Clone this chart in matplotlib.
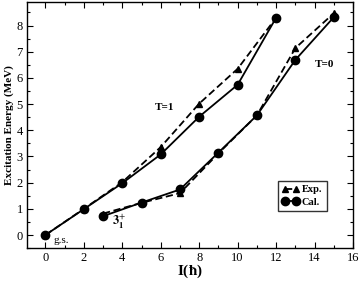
import matplotlib
matplotlib.use('Agg')
import matplotlib.pyplot as plt
from matplotlib.ticker import MultipleLocator

# T=1 band (even spins)
spin_t1 = [0, 2, 4, 6, 8, 10, 12]
exp_t1 = [0.0, 1.0, 2.02, 3.36, 5.02, 6.35, 8.3]
cal_t1 = [0.0, 0.99, 1.98, 3.08, 4.52, 5.74, 8.3]

# T=0 band (odd spins)
spin_t0 = [3, 5, 7, 9, 11, 13, 15]
exp_t0 = [0.82, 1.23, 1.6, 3.12, 4.57, 7.14, 8.47]
cal_t0 = [0.72, 1.24, 1.74, 3.15, 4.57, 6.69, 8.32]

plt.rcParams['font.family'] = ['Liberation Serif', 'DejaVu Serif']
plt.rcParams['mathtext.fontset'] = 'stix'

fig = plt.figure(figsize=(3.61, 2.82), dpi=100)
ax = fig.add_axes([0.075, 0.12, 0.903, 0.873])

ax.plot(spin_t1, exp_t1, 'k--^', ms=5, lw=1.3, dashes=(4, 2))
ax.plot(spin_t1, cal_t1, 'k-o', ms=6, lw=1.3)
ax.plot(spin_t0, exp_t0, 'k--^', ms=5, lw=1.3, dashes=(4, 2), label='Exp.')
ax.plot(spin_t0, cal_t0, 'k-o', ms=6, lw=1.3, label='Cal.')

ax.set_xlim(-0.95, 16)
ax.set_ylim(-0.5, 8.9)
ax.xaxis.set_major_locator(MultipleLocator(2))
ax.xaxis.set_minor_locator(MultipleLocator(1))
ax.yaxis.set_major_locator(MultipleLocator(1))
ax.yaxis.set_minor_locator(MultipleLocator(0.5))
ax.tick_params(which='both', direction='in', top=True, right=True, labelsize=9, width=0.8)
ax.tick_params(which='major', length=4, pad=3)
ax.tick_params(which='minor', length=2.5)
for s in ax.spines.values():
    s.set_linewidth(1.0)

ax.set_xlabel(r'I($\mathbf{\hbar}$)', fontsize=11, fontweight='bold', labelpad=-1)
ax.set_ylabel('Excitation Energy (MeV)', fontsize=8, fontweight='bold', labelpad=2)

ax.text(6.2, 4.88, 'T=1', fontsize=8, fontweight='bold', ha='center', va='center')
ax.text(14.5, 6.5, 'T=0', fontsize=8, fontweight='bold', ha='center', va='center')
ax.text(0.45, -0.2, 'g.s.', fontsize=8, ha='left', va='center')
ax.text(3.45, 0.5, r'$\mathbf{3}_{\mathbf{1}}^{+}$', fontsize=9, ha='left', va='center')

leg = ax.legend(loc='lower right', bbox_to_anchor=(0.935, 0.13), numpoints=2,
                frameon=True, fancybox=False, edgecolor='k', handlelength=1.6,
                handletextpad=0.3, borderpad=0.4, labelspacing=0.3, prop={'weight': 'bold', 'size': 7.5})
leg.get_frame().set_linewidth(1.0)

fig.savefig('out.png', dpi=100)
